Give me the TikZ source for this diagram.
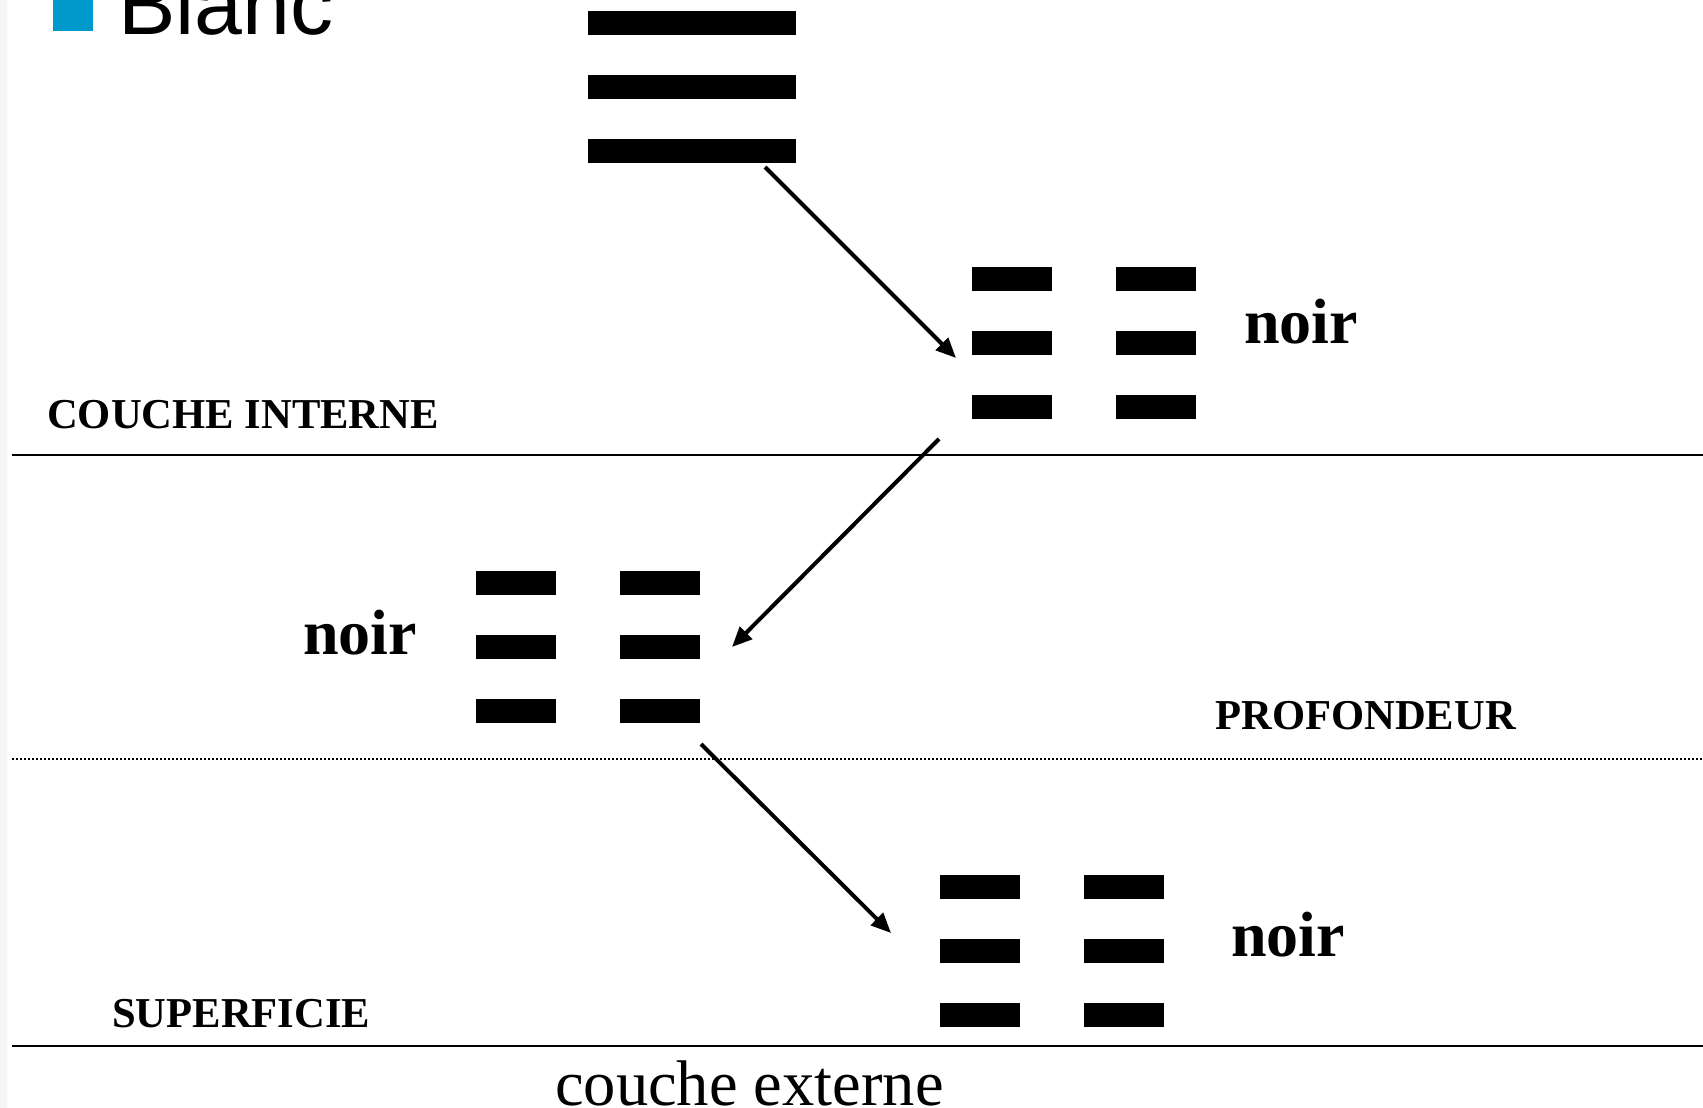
\documentclass[tikz,border=0pt]{standalone}
\usepackage{fontspec}
\setmainfont{Liberation Serif}
\newfontfamily\arialfont{Liberation Sans}
\usetikzlibrary{arrows.meta}
\definecolor{bulletblue}{RGB}{0,153,204}
\tikzset{
  bar/.style={fill=black},
  label/.style={inner sep=0pt, anchor=base west},
  caps/.style={label, font=\bfseries\fontsize{42.6}{50}\selectfont},
  noirtxt/.style={label, font=\bfseries\fontsize{64}{75}\selectfont},
  flow/.style={line width=4pt, -{Triangle[length=20pt,width=17pt]}},
  rule/.style={line width=2pt},
  dotrule/.style={line width=2pt, dash pattern=on 2pt off 2pt}
}
\begin{document}
\begin{tikzpicture}[x=1pt,y=-1pt]
\useasboundingbox (0,0) rectangle (1703,1108);
\fill[white] (0,0) rectangle (1703,1108);
\fill[gray!7] (0,0) rectangle (7,1108);
% bullet + Blanc
\fill[bulletblue] (53,-9) rectangle (93,31);
\node[label, font=\arialfont\fontsize{86}{100}\selectfont] (blanc) at (118,35) {Blanc};
% top trigram (Blanc)
\fill[bar] (588,11) rectangle (796,35);
\fill[bar] (588,75) rectangle (796,99);
\fill[bar] (588,139) rectangle (796,163);
% group 1 (noir, upper right)
\foreach \y in {267,331,395}{
  \fill[bar] (972,\y) rectangle (1052,\y+24);
  \fill[bar] (1116,\y) rectangle (1196,\y+24);
}
\node[noirtxt] (noir1) at (1244,343) {noir};
% group 2 (noir, middle left)
\foreach \y in {571,635,699}{
  \fill[bar] (476,\y) rectangle (556,\y+24);
  \fill[bar] (620,\y) rectangle (700,\y+24);
}
\node[noirtxt] (noir2) at (303,654) {noir};
% group 3 (noir, bottom)
\foreach \y in {875,939,1003}{
  \fill[bar] (940,\y) rectangle (1020,\y+24);
  \fill[bar] (1084,\y) rectangle (1164,\y+24);
}
\node[noirtxt] (noir3) at (1231,956) {noir};
% layer labels
\node[caps] (interne) at (47,428) {COUCHE INTERNE};
\node[caps] (profondeur) at (1215,729) {PROFONDEUR};
\node[caps] (superficie) at (112,1027) {SUPERFICIE};
\node[label, font=\fontsize{64.5}{75}\selectfont] (externe) at (555,1105) {couche externe};
% rules
\coordinate (l1a) at (12,455); \coordinate (l1b) at (1703,455);
\coordinate (l2a) at (12,759); \coordinate (l2b) at (1703,759);
\coordinate (l3a) at (12,1046); \coordinate (l3b) at (1703,1046);
\draw[rule] (l1a) -- (l1b);
\draw[dotrule] (l2a) -- (l2b);
\draw[rule] (l3a) -- (l3b);
% arrows
\coordinate (a1s) at (765,167); \coordinate (a1e) at (956,358);
\coordinate (a2s) at (939,439); \coordinate (a2e) at (732,647);
\coordinate (a3s) at (701,744); \coordinate (a3e) at (891,933);
\draw[flow] (a1s) -- (a1e);
\draw[flow] (a2s) -- (a2e);
\draw[flow] (a3s) -- (a3e);
\end{tikzpicture}
\end{document}
